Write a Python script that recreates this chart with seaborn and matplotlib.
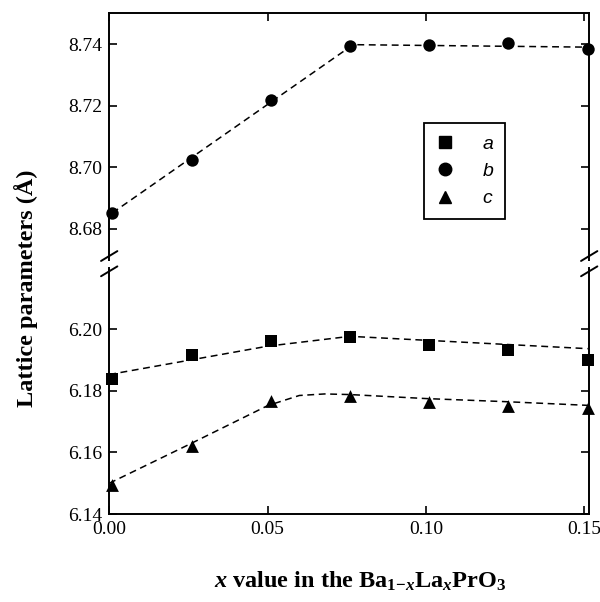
import matplotlib
matplotlib.use("Agg")
import matplotlib.pyplot as plt
import seaborn as sns
import pandas as pd
from matplotlib.lines import Line2D

# ── data ────────────────────────────────────────────────────────────────────
x_vals = [0.001, 0.026, 0.051, 0.076, 0.101, 0.126, 0.151]
a_vals = [6.1840, 6.1918, 6.1963, 6.1974, 6.1948, 6.1934, 6.1900]
b_vals = [8.6852, 8.7023, 8.7218, 8.7393, 8.7398, 8.7405, 8.7384]
c_vals = [6.1495, 6.1621, 6.1768, 6.1784, 6.1763, 6.1750, 6.1744]

# dashed guide lines (knots)
a_fit_x = [0.0, 0.050, 0.076, 0.151]
a_fit_y = [6.1853, 6.1945, 6.1977, 6.1937]
b_fit_x = [0.001, 0.077, 0.151]
b_fit_y = [8.6852, 8.7398, 8.7390]
c_fit_x = [0.0, 0.025, 0.050, 0.060, 0.068, 0.076, 0.100, 0.125, 0.151]
c_fit_y = [6.1500, 6.1625, 6.1752, 6.1785, 6.1790, 6.1788, 6.1775, 6.1765, 6.1753]

x_ticks = [0.0, 0.05, 0.10, 0.15]
x_ticklabels = ["0.00", "0.05", "0.10", "0.15"]
top_ticks = [8.68, 8.70, 8.72, 8.74]
bot_ticks = [6.14, 6.16, 6.18, 6.20]
legend_labels = ["a", "b", "c"]

sns.set_style("ticks")
plt.rcParams["font.family"] = ["Liberation Serif", "DejaVu Serif"]
plt.rcParams["text.color"] = "black"
plt.rcParams["mathtext.fontset"] = "custom"
plt.rcParams["mathtext.rm"] = "Liberation Serif:bold"
plt.rcParams["mathtext.it"] = "Liberation Serif:italic:bold"
plt.rcParams["mathtext.bf"] = "Liberation Serif:bold"

pts = pd.DataFrame({"x": x_vals, "a": a_vals, "b": b_vals, "c": c_vals})

fig = plt.figure(figsize=(6.0, 6.02), dpi=100)
gs = fig.add_gridspec(2, 1, left=0.182, right=0.982, top=0.978, bottom=0.146,
                      hspace=0.032)
ax_top = fig.add_subplot(gs[0])
ax_bot = fig.add_subplot(gs[1], sharex=ax_top)

dash = (0, (4.5, 3))
mk = dict(color="black", edgecolor="black", linewidth=0, zorder=3, clip_on=False,
          legend=False)

# top panel: b
sns.lineplot(x=b_fit_x, y=b_fit_y, ax=ax_top, color="black", lw=1.1,
             linestyle=dash, sort=False)
sns.scatterplot(data=pts, x="x", y="b", ax=ax_top, marker="o", s=80, **mk)

# bottom panel: a and c
sns.lineplot(x=a_fit_x, y=a_fit_y, ax=ax_bot, color="black", lw=1.1,
             linestyle=dash, sort=False)
sns.lineplot(x=c_fit_x, y=c_fit_y, ax=ax_bot, color="black", lw=1.1,
             linestyle=dash, sort=False)
sns.scatterplot(data=pts, x="x", y="a", ax=ax_bot, marker="s", s=70, **mk)
sns.scatterplot(data=pts, x="x", y="c", ax=ax_bot, marker="^", s=85, **mk)

ax_top.set_ylim(8.67, 8.75)
ax_bot.set_ylim(6.14, 6.22)
ax_bot.set_xlim(0.0, 0.1515)

for ax in (ax_top, ax_bot):
    for s in ax.spines.values():
        s.set_linewidth(1.4)
        s.set_color("black")
    ax.tick_params(direction="in", length=6, width=1.2, labelsize=14,
                   top=True, right=True, pad=5, colors="black")
    ax.set_xticks(x_ticks)
    ax.set_xlabel("")
    ax.set_ylabel("")

ax_top.set_yticks(top_ticks)
ax_top.set_yticklabels([f"{v:.2f}" for v in top_ticks])
ax_bot.set_yticks(bot_ticks)
ax_bot.set_yticklabels([f"{v:.2f}" for v in bot_ticks])
ax_bot.set_xticklabels(x_ticklabels)

ax_top.spines["bottom"].set_visible(False)
ax_bot.spines["top"].set_visible(False)
ax_top.tick_params(bottom=False, labelbottom=False)
ax_bot.tick_params(top=False)

# break marks
kw = dict(color="black", lw=1.4, clip_on=False)
for xe in (0.0, 1.0):
    ax_top.plot([xe - 0.017, xe + 0.017], [-0.005, 0.035], transform=ax_top.transAxes, **kw)
    ax_bot.plot([xe - 0.017, xe + 0.017], [0.965, 1.005], transform=ax_bot.transAxes, **kw)

# legend
handles = [Line2D([], [], ls="none", marker=m, color="black", markersize=ms)
           for m, ms in (("s", 8), ("o", 9), ("^", 9))]
leg = ax_top.legend(handles, legend_labels, loc="upper left",
                    bbox_to_anchor=(0.656, 0.553), frameon=True, fancybox=False,
                    edgecolor="black", framealpha=1, handlelength=1.0,
                    handletextpad=1.4, borderpad=0.6, labelspacing=0.5,
                    borderaxespad=0,
                    prop={"family": "Liberation Sans", "style": "italic", "size": 14})
leg.get_frame().set_linewidth(1.3)

fig.text(0.043, 0.522, "Lattice parameters (Å)", rotation=90, ha="center",
         va="center", fontsize=17.5, fontweight="bold")
fig.text(0.6, 0.034, r"$\mathit{x}$ value in the Ba$_{1\mathrm{-}x}$La$_x$PrO$_3$",
         ha="center", va="center", fontsize=17.5, fontweight="bold")

fig.savefig("out.png", dpi=100)
